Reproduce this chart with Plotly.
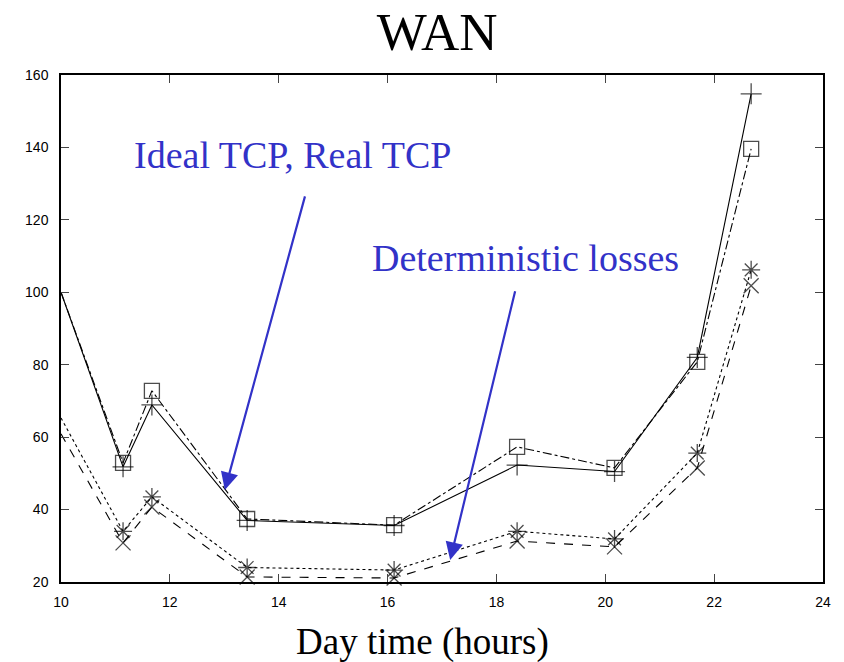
import plotly.graph_objects as go

# Hour of day at which each measurement was taken
hours = [10.0, 11.14, 11.67, 13.42, 16.12, 18.38, 20.17, 21.69, 22.68]

# Transfer time for each model
real_tcp = [100.0, 51.8, 68.9, 37.0, 35.6, 52.3, 50.5, 82.0, 154.8]
ideal_tcp = [100.0, 52.9, 72.8, 37.4, 35.7, 57.3, 51.5, 80.8, 139.6]
det_losses_a = [65.3, 34.0, 43.5, 24.0, 23.3, 34.0, 31.9, 55.6, 106.2]
det_losses_b = [60.9, 30.8, 40.7, 21.4, 21.1, 31.3, 29.7, 51.5, 101.8]

x_ticks = [10, 12, 14, 16, 18, 20, 22, 24]
y_ticks = [20, 40, 60, 80, 100, 120, 140, 160]
x_range = [10, 24]

series = [
    ("Real TCP", real_tcp, "solid", "cross-thin-open"),
    ("Ideal TCP", ideal_tcp, "dashdot", "square-open"),
    ("Deterministic losses (a)", det_losses_a, "dot", "asterisk-open"),
    ("Deterministic losses (b)", det_losses_b, "dash", "x-thin-open"),
]

# points sitting on the left border get no symbol
marker_sizes = [0 if h <= x_range[0] else 15 for h in hours]

fig = go.Figure()
for name, vals, dash, sym in series:
    fig.add_trace(go.Scatter(
        x=hours, y=vals, name=name, mode="lines+markers",
        line=dict(color="black", width=1.1, dash=dash),
        marker=dict(symbol=sym, size=marker_sizes, color="black",
                    line=dict(color="black", width=1.3)),
        cliponaxis=False,
    ))

blue = "#3232c8"
serif = "Liberation Serif"

fig.add_annotation(x=13.01, y=45.4, ax=14.49, ay=126.9,
                   xref="x", yref="y", axref="x", ayref="y",
                   showarrow=True, arrowhead=2, arrowsize=1.6, arrowwidth=2.2,
                   arrowcolor=blue, text="")
fig.add_annotation(x=14.25, y=138.0, xref="x", yref="y", showarrow=False,
                   text="Ideal TCP, Real TCP",
                   font=dict(family=serif, size=38, color=blue))

fig.add_annotation(x=17.15, y=26.1, ax=18.35, ay=100.7,
                   xref="x", yref="y", axref="x", ayref="y",
                   showarrow=True, arrowhead=2, arrowsize=1.6, arrowwidth=2.2,
                   arrowcolor=blue, text="")
fig.add_annotation(x=18.53, y=109.5, xref="x", yref="y", showarrow=False,
                   text="Deterministic losses",
                   font=dict(family=serif, size=38, color=blue))

# axis caption, set slightly left of the plot centre
fig.add_annotation(x=0.474, y=0, xref="paper", yref="paper",
                   yanchor="middle", yshift=-60, showarrow=False,
                   text="Day time (hours)",
                   font=dict(family=serif, size=37, color="black"))

fig.update_layout(
    width=844, height=662,
    margin=dict(l=61, r=21, t=75, b=80),
    paper_bgcolor="white", plot_bgcolor="white",
    showlegend=False,
    title=dict(text="WAN", x=0.518, xanchor="center", y=0.953, yanchor="middle",
               font=dict(family=serif, size=53, color="black")),
    font=dict(family="Liberation Sans", size=14, color="black"),
)
fig.update_xaxes(
    range=x_range, tickvals=x_ticks, ticks="inside", ticklen=8,
    showline=True, linecolor="black", linewidth=1.5, mirror="allticks",
    showgrid=False, zeroline=False, ticklabelstandoff=6,
)
fig.update_yaxes(
    range=[20, 160], tickvals=y_ticks, ticks="inside", ticklen=8,
    showline=True, linecolor="black", linewidth=1.5, mirror="allticks",
    showgrid=False, zeroline=False, ticklabelstandoff=8,
)

fig.write_html("out.html")
